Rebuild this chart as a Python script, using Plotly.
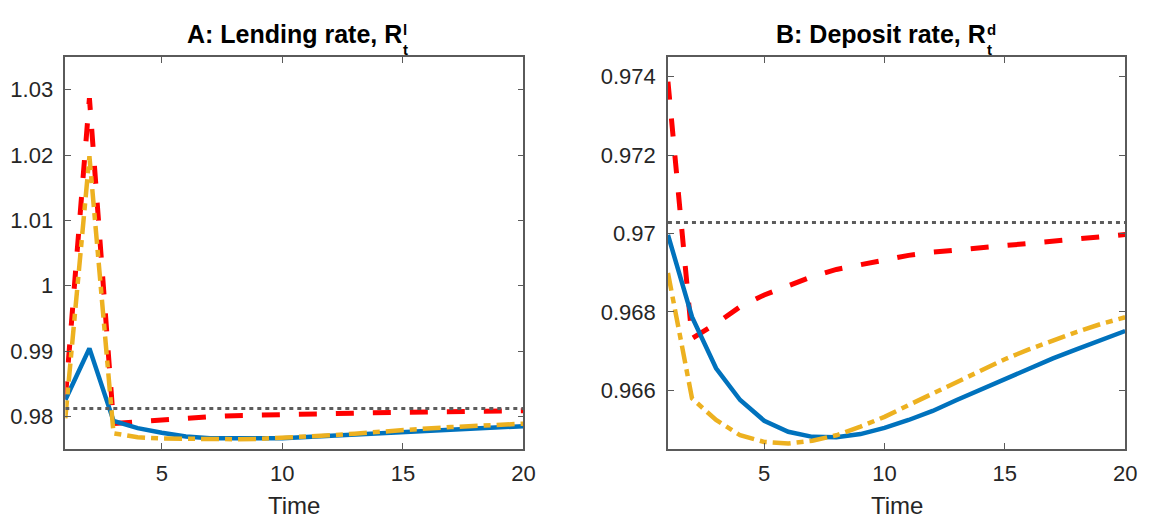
import plotly.graph_objects as go

# ---------------- data ----------------
time = list(range(1, 21))

# Panel A: lending rate
lend_blue = [0.9825, 0.9904, 0.9793, 0.9782, 0.9775, 0.9769, 0.97664, 0.9766, 0.9766, 0.97665,
             0.97683, 0.97702, 0.9772, 0.9774, 0.9776, 0.97778, 0.97796, 0.97814, 0.97832, 0.9785]
lend_red = [0.9826, 1.0287, 0.9789, 0.9792, 0.9795, 0.97975, 0.97995, 0.9801, 0.9802, 0.9803,
            0.9804, 0.98047, 0.98053, 0.98058, 0.98063, 0.98068, 0.98073, 0.98078, 0.98082, 0.98086]
lend_yellow = [0.9797, 1.0198, 0.9774, 0.9768, 0.9766, 0.97652, 0.9765, 0.9765, 0.97655, 0.97668,
               0.9769, 0.9771, 0.97735, 0.97765, 0.9780, 0.97815, 0.97835, 0.97853, 0.9787, 0.97888]
lend_ss = 0.9812

# Panel B: deposit rate
dep_blue = [0.96996, 0.96787, 0.96656, 0.96575, 0.96522, 0.96494, 0.96481, 0.96480, 0.96488, 0.96504,
            0.96524, 0.96547, 0.96575, 0.96602, 0.96630, 0.96656, 0.96681, 0.96705, 0.96728, 0.96751]
dep_red = [0.97387, 0.96732, 0.96770, 0.96813, 0.96843, 0.96868, 0.96890, 0.96908, 0.96921, 0.96934,
           0.96944, 0.96952, 0.96958, 0.96964, 0.96970, 0.96976, 0.96981, 0.96986, 0.96992, 0.96997]
dep_yellow = [0.96899, 0.96579, 0.96524, 0.96485, 0.96468, 0.96464, 0.96471, 0.96485, 0.96507, 0.96532,
              0.96562, 0.96592, 0.96621, 0.96651, 0.96679, 0.96704, 0.96728, 0.96749, 0.96769, 0.96786]
dep_ss = 0.97028

x_ticks = [5, 10, 15, 20]
yA_ticks = [0.98, 0.99, 1.0, 1.01, 1.02, 1.03]
yA_labels = ["0.98", "0.99", "1", "1.01", "1.02", "1.03"]
yB_ticks = [0.966, 0.968, 0.970, 0.972, 0.974]
yB_labels = ["0.966", "0.968", "0.97", "0.972", "0.974"]

# ---------------- styling ----------------
W, H = 1151, 519
FONT = "Liberation Sans, Arial, sans-serif"
BLUE, RED, YELLOW, GRAY = "#0072BD", "#FF0000", "#EDB120", "#5c5c5c"
AXCOL = "#5a5a5a"

def px_x(p):
    return p / W

def px_y(p):
    return 1 - p / H

fig = go.Figure()

def add_panel(xa, ya, blue, red, yellow, ss):
    fig.add_trace(go.Scatter(x=time, y=red, mode="lines", xaxis=xa, yaxis=ya,
                             line=dict(color=RED, width=5, dash="18px,19px"), showlegend=False))
    fig.add_trace(go.Scatter(x=time, y=blue, mode="lines", xaxis=xa, yaxis=ya,
                             line=dict(color=BLUE, width=4.5), showlegend=False))
    fig.add_trace(go.Scatter(x=time, y=yellow, mode="lines", xaxis=xa, yaxis=ya,
                             line=dict(color=YELLOW, width=4.5, dash="18px,6px,7px,6px"), showlegend=False))
    fig.add_trace(go.Scatter(x=time, y=[ss] * len(time), mode="lines", xaxis=xa, yaxis=ya,
                             line=dict(color=GRAY, width=3, dash="4px,4px"), showlegend=False))

add_panel("x", "y", lend_blue, lend_red, lend_yellow, lend_ss)
add_panel("x2", "y2", dep_blue, dep_red, dep_yellow, dep_ss)

ydom = [px_y(449), px_y(57)]
common_x = dict(range=[1, 20], tickvals=x_ticks, ticks="inside", ticklen=6, tickwidth=1.3,
                tickcolor=AXCOL, showline=True, linecolor=AXCOL, linewidth=1.5, mirror="ticks",
                showgrid=False, zeroline=False, ticklabelstandoff=4,
                tickfont=dict(family=FONT, size=22, color="#262626"))
common_y = dict(ticks="inside", ticklen=6, tickwidth=1.3, tickcolor=AXCOL, showline=True,
                linecolor=AXCOL, linewidth=1.5, mirror="ticks", showgrid=False, zeroline=False,
                ticklabelstandoff=6, tickfont=dict(family=FONT, size=22, color="#262626"))

fig.update_layout(
    width=W, height=H, margin=dict(l=0, r=0, t=0, b=0),
    paper_bgcolor="white", plot_bgcolor="white",
    xaxis=dict(domain=[px_x(66), px_x(529)], anchor="y", **common_x),
    yaxis=dict(domain=ydom, anchor="x", range=[0.975, 1.035], tickvals=yA_ticks,
               ticktext=yA_labels, **common_y),
    xaxis2=dict(domain=[px_x(675), px_x(1137)], anchor="y2", **common_x),
    yaxis2=dict(domain=ydom, anchor="x2", range=[0.9645, 0.9745], tickvals=yB_ticks,
                ticktext=yB_labels, **common_y),
)

ann = []
def txt(x, y, s, size, bold=False, xanchor="center"):
    ann.append(dict(x=px_x(x), y=px_y(y), xref="paper", yref="paper", text=(f"<b>{s}</b>" if bold else s),
                    showarrow=False, xanchor=xanchor, yanchor="middle", borderpad=0,
                    font=dict(family=FONT, size=size, color="black" if bold else "#262626")))

# titles (R with stacked superscript / subscript)
txt(407, 34, "A: Lending rate, R", 25, True, "right")
txt(406, 30, "l", 15, True, "left")
txt(406, 50, "t", 15, True, "left")
txt(997, 34, "B: Deposit rate, R", 25, True, "right")
txt(996, 30, "d", 15, True, "left")
txt(996, 50, "t", 15, True, "left")
# x labels
txt(297.5, 505, "Time", 24)
txt(906, 505, "Time", 24)

fig.update_layout(annotations=ann)
fig.write_html("out.html")
